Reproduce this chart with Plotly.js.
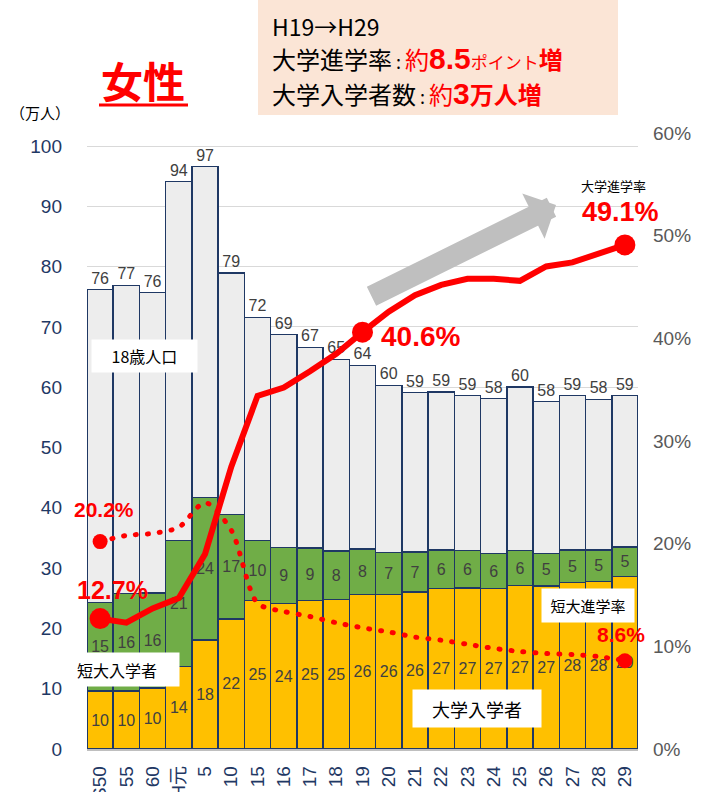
<!DOCTYPE html>
<html><head><meta charset="utf-8">
<script src="https://cdn.plot.ly/plotly-3.0.1.min.js"></script>
<style>
html,body{margin:0;padding:0;background:#fff;overflow:hidden;}
.scatterlayer .js-line{stroke-linecap:round;}
</style>
</head><body>
<div id="chart" style="width:701px;height:792px;"></div>
<script>
// ---- data ----
const categories = ["S50","55","60","H元","5","10","15","16","17","18","19","20","21","22","23","24","25","26","27","28","29"];
// 大学入学者 (万人)
const univEntrants = [9.6,9.6,10.1,13.7,18.1,21.6,24.6,24.1,24.6,24.8,25.6,25.6,26.0,26.6,26.7,26.6,27.1,27.0,27.6,27.8,28.6];
// 短大入学者 (万人)
const jcEntrants = [14.7,16.2,15.8,20.9,23.6,17.3,10.0,9.3,8.7,8.0,7.6,7.0,6.7,6.4,6.2,5.8,5.8,5.4,5.4,5.2,4.9];
// 18歳人口 (万人)
const population18 = [76.2,76.9,75.7,94.1,96.6,78.9,71.6,68.7,66.6,64.6,63.6,60.3,59.1,59.2,58.6,58.1,60.0,57.6,58.6,58.0,58.6];
// 大学進学率 (%)
const univRate = [12.7,12.3,13.7,14.7,19.0,27.5,34.4,35.2,36.8,38.5,40.6,42.6,44.2,45.2,45.8,45.8,45.6,47.0,47.4,48.2,49.1];
// 短大進学率 (%)
const jcRate = [20.2,20.8,21.0,21.6,24.0,21.3,14.2,13.4,12.9,12.3,11.8,11.4,10.9,10.6,10.2,9.8,9.5,9.3,9.2,9.0,8.6];
const leftTicks = [0,10,20,30,40,50,60,70,80,90,100];
const rightTicks = [0,10,20,30,40,50,60];

// ---- geometry helpers (pixel -> paper) ----
const W=701,H=792,L=87,R=638,T=133,B=749;
const px = x => (x-L)/(R-L);
const py = y => (B-y)/(B-T);

const rest = population18.map((t,i)=> t - univEntrants[i] - jcEntrants[i]);
const navy = '#1F3864';
const red = '#FF0000';
const labelFont = {size:16, color:'#404040', family:"'Liberation Sans', Arial, sans-serif"};
const narrow = "'Liberation Sans Narrow','Liberation Sans',sans-serif";

const univMarkIdx = [0,10,20];
const jcMarkIdx = [0,20];

const traces = [
  {type:'bar', x:categories, y:univEntrants, name:'大学入学者',
   marker:{color:'#FFC000', line:{color:navy, width:1.5}},
   texttemplate:'%{y:.0f}', textposition:'inside', insidetextanchor:'middle', textangle:0,
   textfont:labelFont, insidetextfont:labelFont, hoverinfo:'skip'},
  {type:'bar', x:categories, y:jcEntrants, name:'短大入学者',
   marker:{color:'#70AD47', line:{color:navy, width:1.5}},
   texttemplate:'%{y:.0f}', textposition:'inside', insidetextanchor:'middle', textangle:0,
   textfont:labelFont, insidetextfont:labelFont, hoverinfo:'skip'},
  {type:'bar', x:categories, y:rest, customdata:population18, name:'18歳人口',
   marker:{color:'#EDEDED', line:{color:navy, width:1.5}},
   texttemplate:'%{customdata:.0f}', textposition:'outside', textangle:0,
   textfont:labelFont, outsidetextfont:labelFont, cliponaxis:false, hoverinfo:'skip'},
  {type:'scatter', x:categories, y:univRate, yaxis:'y2', mode:'lines+markers', name:'大学進学率',
   line:{color:red, width:6},
   marker:{color:red, opacity:1, line:{width:0}, size:univRate.map((v,i)=> univMarkIdx.includes(i)?21:0)},
   cliponaxis:false, hoverinfo:'skip'},
  {type:'scatter', x:categories, y:jcRate, yaxis:'y2', mode:'lines+markers', name:'短大進学率',
   line:{color:red, width:5, dash:'1px,11px', shape:'spline', smoothing:0.8},
   marker:{color:red, opacity:1, line:{width:0}, size:jcRate.map((v,i)=> jcMarkIdx.includes(i)?15:0)},
   cliponaxis:false, hoverinfo:'skip'}
];

const ann = (x,y,text,font,extra) => Object.assign({xref:'paper',yref:'paper',x:px(x),y:py(y),text:text,
  showarrow:false,xanchor:'center',yanchor:'middle',font:font},extra||{});
const redPct = s => ({size:s, color:red, family:narrow, weight:'bold'});
const cjk = "'Noto Sans CJK JP','Liberation Sans',sans-serif";
const rs = (t,style) => '<span style="color:#FF0000;'+(style||'')+'">'+t+'</span>';
const bigNum = "font-size:30px;font-weight:bold;font-family:'Liberation Sans',sans-serif";

const annotations = [
  ann(143,80,'女性',{size:42,color:red,family:cjk,weight:'bold'}),
  ann(270,26,'H19→H29',{size:23,color:'#000',family:cjk},{xanchor:'left'}),
  ann(270,58,'大学進学率<span style="font-size:18px"> : </span>'+rs('約')+
     rs('8.5',bigNum)+rs('ポイント','font-size:17px')+rs('増','font-weight:bold'),
     {size:24,color:'#000',family:cjk},{xanchor:'left'}),
  ann(270,93,'大学入学者数<span style="font-size:18px"> : </span>'+rs('約')+
     rs('3',bigNum)+rs('万人増','font-weight:bold'),
     {size:24,color:'#000',family:cjk},{xanchor:'left'}),
  ann(40,113,'（万人）',{size:15,color:'#000',family:cjk}),
  ann(144,356,'18歳人口',{size:16,color:'#000',family:cjk},{bgcolor:'#FFFFFF',width:103,height:30}),
  ann(127,669,'短大入学者',{size:16,color:'#000',family:cjk},{bgcolor:'#FFFFFF',width:101,height:31,align:'left'}),
  ann(477,708,'大学入学者',{size:18,color:'#000',family:cjk},{bgcolor:'#FFFFFF',width:126,height:35}),
  ann(588,605,'短大進学率',{size:15,color:'#000',family:cjk},{bgcolor:'#FFFFFF',width:90,height:31}),
  ann(613,185,'大学進学率',{size:13,color:'#000',family:cjk}),
  ann(620,212,'49.1%',redPct(27)),
  ann(420,336,'40.6%',redPct(28)),
  ann(104,509,'20.2%',redPct(21)),
  ann(112,590,'12.7%',redPct(25)),
  ann(621,634,'8.6%',redPct(21)),
  {xref:'paper',yref:'paper',x:px(556),y:py(205),ax:-186,ay:92,text:'',showarrow:true,
   arrowhead:1,arrowsize:0.4,arrowwidth:21,arrowcolor:'#BFBFBF'}
];

const shapes = [
  {type:'rect',xref:'paper',yref:'paper',x0:px(258),x1:px(618),y0:py(115),y1:py(0),
   fillcolor:'#FBE5D6',line:{width:0},layer:'below'},
  {type:'line',xref:'paper',yref:'paper',x0:px(99),x1:px(188),y0:py(105),y1:py(105),
   line:{color:red,width:3}}
];

const layout = {
  width:W, height:H,
  margin:{l:L, r:W-R, t:T, b:H-B, pad:0},
  paper_bgcolor:'#FFFFFF', plot_bgcolor:'#FFFFFF',
  font:{family:"'Liberation Sans','Noto Sans CJK JP',sans-serif"},
  barmode:'stack', bargap:0, showlegend:false,
  xaxis:{type:'category', range:[-0.5, categories.length-0.5], autorange:false,
         tickangle:-90, tickfont:{size:19,color:navy}, ticks:'',
         showline:true, linecolor:'#BFBFBF', linewidth:1.5, showgrid:false, ticklabelstandoff:8,
         fixedrange:true},
  yaxis:{range:[0,(B-T)/6.03], autorange:false, tickvals:leftTicks, ticktext:leftTicks.map(String),
         tickfont:{size:19,color:navy}, showgrid:true, gridcolor:'#D9D9D9', gridwidth:1,
         zeroline:false, showline:false, ticks:'', ticklabelstandoff:24, fixedrange:true},
  yaxis2:{overlaying:'y', side:'right', range:[0,60], autorange:false, tickvals:rightTicks,
          ticktext:rightTicks.map(v=>v+'%'), tickfont:{size:19,color:'#595959'},
          showgrid:false, zeroline:false, showline:false, ticks:'', ticklabelstandoff:14, fixedrange:true},
  annotations:annotations, shapes:shapes
};

Plotly.newPlot('chart', traces, layout, {staticPlot:true, displayModeBar:false});
</script>
</body></html>
